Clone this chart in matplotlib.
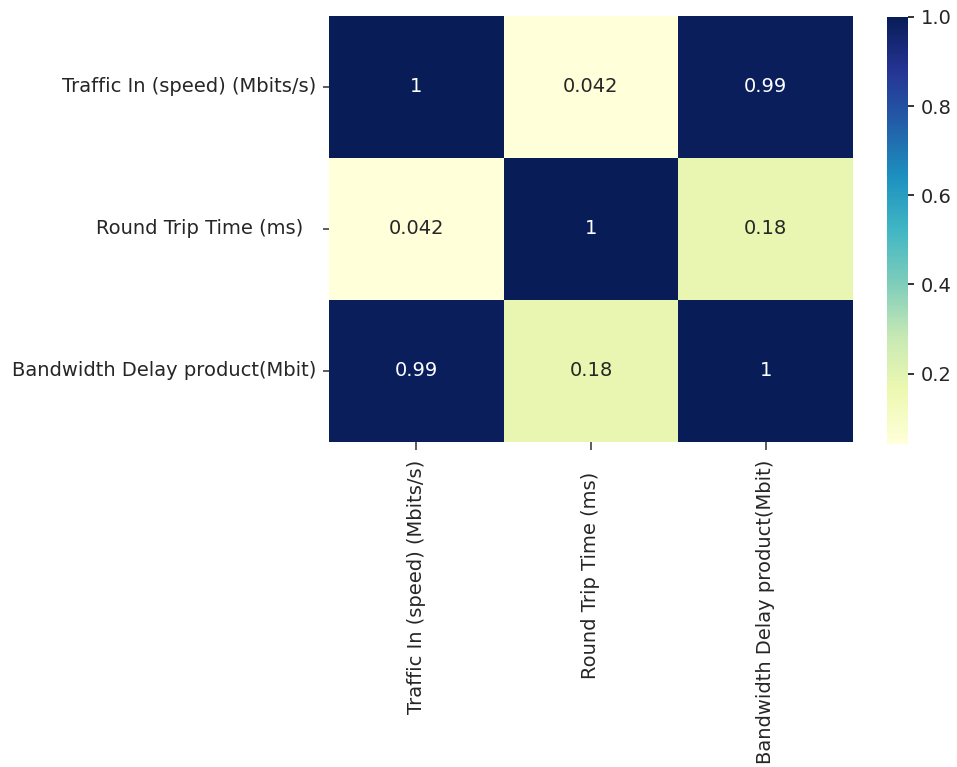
import matplotlib
matplotlib.use("Agg")
import matplotlib.pyplot as plt
import numpy as np
import pandas as pd
import seaborn as sns

columns = ["Traffic In (speed) (Mbits/s)", "Round Trip Time (ms)  ", "Bandwidth Delay product(Mbit)"]
row_traffic = [1.0, 0.042, 0.99]
row_rtt = [0.042, 1.0, 0.18]
row_bdp = [0.99, 0.18, 1.0]

corr = pd.DataFrame([row_traffic, row_rtt, row_bdp], index=columns, columns=columns)

W, H, DPI = 957, 767, 140
fig = plt.figure(figsize=(W / DPI, H / DPI), dpi=DPI)
ax = fig.add_axes([329 / W, 1 - 442 / H, (853 - 329) / W, (442 - 16) / H])
cax = fig.add_axes([887 / W, 1 - 444 / H, (908 - 887) / W, (444 - 17) / H])

sns.heatmap(corr, annot=True, cmap="YlGnBu", ax=ax, cbar_ax=cax)
ax.tick_params(axis="y", length=3.2, color="#333333")
ax.tick_params(axis="x", length=4, pad=5, color="#333333")
cax.tick_params(length=3)
for lab in ax.get_xticklabels() + ax.get_yticklabels() + cax.get_yticklabels():
    lab.set_color("#262626")

fig.savefig("out.png", dpi=DPI)
